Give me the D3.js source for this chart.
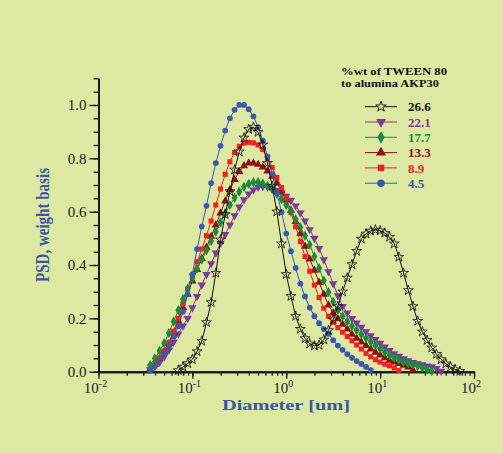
<!DOCTYPE html>
<html>
<head>
<meta charset="utf-8">
<script src="https://cdn.jsdelivr.net/npm/d3@7"></script>
<style>
  html, body { margin: 0; padding: 0; background: #dde8a3; }
  svg { display: block; }
</style>
</head>
<body>
<div id="chart"></div>
<script>
// particle diameters [um], shared by every curve
var diameters = [0.03548, 0.03981, 0.04467, 0.05012, 0.05623, 0.06310, 0.07079, 0.07943, 0.08913, 0.1,
  0.1122, 0.1259, 0.1413, 0.1585, 0.1778, 0.1995, 0.2239, 0.2512, 0.2818, 0.3162,
  0.3548, 0.3981, 0.4467, 0.5012, 0.5623, 0.6310, 0.7079, 0.7943, 0.8913, 1,
  1.122, 1.259, 1.413, 1.585, 1.778, 1.995, 2.239, 2.512, 2.818, 3.162,
  3.548, 3.981, 4.467, 5.012, 5.623, 6.310, 7.079, 7.943, 8.913, 10,
  11.22, 12.59, 14.13, 15.85, 17.78, 19.95, 22.39, 25.12, 28.18, 31.62,
  35.48, 39.81, 44.67, 50.12, 56.23, 63.10, 70.79];

// PSD (weight basis) per %wt of TWEEN 80, null = no point
var psd266 = [null, null, null, null, null, null,
  0.005, 0.018, 0.031, 0.046, 0.076, 0.115, 0.185, 0.26, 0.37, 0.495,
  0.59, 0.676, 0.757, 0.825, 0.877, 0.909, 0.917, 0.898, 0.851, 0.782,
  0.696, 0.6, 0.48, 0.365, 0.283, 0.208, 0.16, 0.125, 0.105, 0.097,
  0.1, 0.12, 0.155, 0.195, 0.245, 0.3, 0.352, 0.402, 0.452, 0.498,
  0.517, 0.528, 0.532, 0.529, 0.52, 0.505, 0.48, 0.43, 0.37, 0.305,
  0.245, 0.19, 0.15, 0.118, 0.09, 0.066, 0.046, 0.03, 0.018, 0.008, 0.002];
var psd221 = [0.008, 0.02, 0.036, 0.056, 0.082, 0.112, 0.142, 0.172, 0.2, 0.24,
  0.282, 0.325, 0.365, 0.405, 0.445, 0.482, 0.515, 0.55, 0.585, 0.618,
  0.645, 0.667, 0.682, 0.692, 0.695, 0.693, 0.688, 0.68, 0.67, 0.658,
  0.643, 0.622, 0.595, 0.565, 0.533, 0.5, 0.462, 0.42, 0.375, 0.33,
  0.285, 0.245, 0.22, 0.2, 0.183, 0.167, 0.15, 0.135, 0.121, 0.107,
  0.093, 0.08, 0.068, 0.058, 0.049, 0.041, 0.035, 0.03, 0.026, 0.022,
  0.019, 0.012, 0.002];
var psd177 = [0.025, 0.05, 0.078, 0.107, 0.145, 0.188, 0.23, 0.272, 0.312, 0.35,
  0.386, 0.42, 0.455, 0.49, 0.525, 0.56, 0.594, 0.625, 0.652, 0.675,
  0.693, 0.704, 0.71, 0.711, 0.706, 0.697, 0.684, 0.667, 0.647, 0.625,
  0.6, 0.572, 0.542, 0.51, 0.476, 0.432, 0.388, 0.342, 0.298, 0.262,
  0.232, 0.208, 0.188, 0.171, 0.155, 0.14, 0.126, 0.112, 0.099, 0.086,
  0.073, 0.062, 0.052, 0.044, 0.037, 0.031, 0.026, 0.021, 0.015, 0.008,
  0.002];
var psd133 = [0.01, 0.027, 0.048, 0.074, 0.105, 0.145, 0.19, 0.24, 0.29, 0.34,
  0.383, 0.425, 0.466, 0.507, 0.55, 0.595, 0.64, 0.682, 0.72, 0.75,
  0.772, 0.782, 0.782, 0.777, 0.767, 0.752, 0.732, 0.707, 0.677, 0.643,
  0.605, 0.563, 0.518, 0.47, 0.422, 0.38, 0.335, 0.29, 0.25, 0.22,
  0.198, 0.178, 0.16, 0.14, 0.125, 0.111, 0.098, 0.085, 0.073, 0.062,
  0.052, 0.043, 0.036, 0.03, 0.024, 0.017, 0.006];
var psd89 = [0.012, 0.03, 0.052, 0.078, 0.11, 0.152, 0.2, 0.255, 0.31, 0.362,
  0.412, 0.46, 0.51, 0.565, 0.625, 0.685, 0.74, 0.787, 0.822, 0.845,
  0.857, 0.86, 0.858, 0.85, 0.833, 0.8, 0.765, 0.728, 0.69, 0.65,
  0.597, 0.543, 0.488, 0.432, 0.377, 0.325, 0.278, 0.238, 0.208, 0.185,
  0.165, 0.148, 0.132, 0.116, 0.1, 0.085, 0.069, 0.056, 0.045, 0.036,
  0.028, 0.022, 0.014, 0.004];
var psd45 = [0.004, 0.02, 0.04, 0.068, 0.095, 0.132, 0.17, 0.225, 0.29, 0.365,
  0.46, 0.544, 0.622, 0.707, 0.782, 0.847, 0.904, 0.95, 0.982, 1.0,
  1.0, 0.984, 0.957, 0.917, 0.866, 0.807, 0.741, 0.671, 0.598, 0.518,
  0.452, 0.389, 0.33, 0.282, 0.24, 0.208, 0.182, 0.16, 0.142, 0.118,
  0.098, 0.082, 0.066, 0.052, 0.04, 0.029, 0.018, 0.006];

var seriesLabels = ['26.6', '22.1', '17.7', '13.3', '8.9', '4.5'];
var xTickPowers = [-2, -1, 0, 1, 2];
var yTickValues = [0, 0.2, 0.4, 0.6, 0.8, 1.0];

var width = 503, height = 453;
var bg = '#dde8a3';
var serif = '"Liberation Serif", "Times New Roman", serif';

var svg = d3.select('#chart').append('svg')
  .attr('width', width)
  .attr('height', height);
svg.append('rect').attr('width', width).attr('height', height).attr('fill', bg);

var x = d3.scaleLog().domain([0.01, 100]).range([98.5, 474]);
var y = d3.scaleLinear().domain([0, 1.1]).range([371.7, 78.3]);

var series = [
  { label: seriesLabels[0], values: psd266, color: '#111111', type: d3.symbolStar, size: 30, lsize: 34, rot: 0, open: true },
  { label: seriesLabels[1], values: psd221, color: '#7b3b98', type: d3.symbolTriangle, size: 30, lsize: 44, rot: 180 },
  { label: seriesLabels[2], values: psd177, color: '#1b8a3c', type: d3.symbolDiamond, size: 30, lsize: 44, rot: 0 },
  { label: seriesLabels[3], values: psd133, color: '#8a1212', type: d3.symbolTriangle, size: 30, lsize: 44, rot: 0 },
  { label: seriesLabels[4], values: psd89, color: '#ee2222', type: d3.symbolSquare, size: 26, lsize: 42, rot: 0 },
  { label: seriesLabels[5], values: psd45, color: '#3c58b0', type: d3.symbolCircle, size: 26, lsize: 44, rot: 0 }
];

// axes
var xMinor = svg.append('g').attr('transform', 'translate(0,' + y(0) + ')')
  .call(d3.axisBottom(x).tickValues(x.ticks()).tickSize(4).tickSizeOuter(0).tickFormat(''));
var xMajor = svg.append('g').attr('transform', 'translate(0,' + y(0) + ')')
  .call(d3.axisBottom(x).tickValues(xTickPowers.map(function (p) { return Math.pow(10, p); }))
    .tickSize(7).tickSizeOuter(0).tickFormat(''));
var yMinor = svg.append('g').attr('transform', 'translate(' + x(0.01) + ',0)')
  .call(d3.axisLeft(y).tickValues(y.ticks(22)).tickSize(5).tickSizeOuter(0).tickFormat(''));
var yMajor = svg.append('g').attr('transform', 'translate(' + x(0.01) + ',0)')
  .call(d3.axisLeft(y).tickValues(yTickValues).tickSize(9).tickSizeOuter(0).tickPadding(3)
    .tickFormat(d3.format('.1f')));

[xMinor, xMajor, yMinor, yMajor].forEach(function (a) {
  a.select('.domain').attr('stroke', '#1a1a1a').attr('stroke-width', 2);
  a.selectAll('.tick line').attr('stroke', '#1a1a1a').attr('stroke-width', 1.3);
});
yMajor.selectAll('.tick text')
  .attr('font-family', serif).attr('font-size', 15).attr('fill', '#222');

// x tick labels 10^n
xTickPowers.forEach(function (p) {
  var t = svg.append('text')
    .attr('x', x(Math.pow(10, p)) - 3)
    .attr('y', 393)
    .attr('text-anchor', 'middle')
    .attr('font-family', serif).attr('font-size', 15).attr('fill', '#222');
  t.append('tspan').text('10');
  t.append('tspan').attr('dy', -6).attr('font-size', 10).text(String(p));
});

// axis titles
svg.append('text')
  .attr('x', 286).attr('y', 410)
  .attr('text-anchor', 'middle')
  .attr('font-family', serif).attr('font-size', 14).attr('font-weight', 'bold')
  .attr('fill', '#3d55a8')
  .attr('textLength', 128).attr('lengthAdjust', 'spacingAndGlyphs')
  .text('Diameter [um]');
svg.append('text')
  .attr('transform', 'translate(49,225) rotate(-90)')
  .attr('text-anchor', 'middle')
  .attr('font-family', serif).attr('font-size', 18).attr('font-weight', 'bold')
  .attr('fill', '#3d55a8')
  .attr('textLength', 114).attr('lengthAdjust', 'spacingAndGlyphs')
  .text('PSD, weight basis');

// curves
var plot = svg.append('g');
var drawOrder = [1, 3, 4, 2, 5, 0];
var line = d3.line()
  .x(function (p) { return x(p.d); })
  .y(function (p) { return y(p.v); });

drawOrder.forEach(function (k) {
  var s = series[k];
  var pts = diameters.map(function (d, i) { return { d: d, v: s.values[i] }; })
    .filter(function (p) { return p.v != null; });
  plot.append('path').datum(pts)
    .attr('d', line)
    .attr('fill', 'none')
    .attr('stroke', s.color)
    .attr('stroke-width', 1);
  plot.append('g').selectAll('path').data(pts).enter().append('path')
    .attr('transform', function (p) {
      return 'translate(' + x(p.d) + ',' + y(p.v) + ') rotate(' + s.rot + ')';
    })
    .attr('d', d3.symbol().type(s.type).size(s.size))
    .attr('fill', s.open ? 'none' : s.color)
    .attr('stroke', s.open ? s.color : 'none')
    .attr('stroke-width', 0.8);
});

// legend
var legend = svg.append('g');
legend.append('text')
  .attr('x', 341).attr('y', 74.5)
  .attr('font-family', serif).attr('font-size', 11).attr('font-weight', 'bold').attr('fill', '#111')
  .attr('textLength', 106).attr('lengthAdjust', 'spacingAndGlyphs')
  .text('%wt of TWEEN 80');
legend.append('text')
  .attr('x', 341).attr('y', 87)
  .attr('font-family', serif).attr('font-size', 11).attr('font-weight', 'bold').attr('fill', '#111')
  .attr('textLength', 98).attr('lengthAdjust', 'spacingAndGlyphs')
  .text('to alumina AKP30');

series.forEach(function (s, i) {
  var ly = 106.7 + i * 15.3;
  legend.append('line')
    .attr('x1', 365).attr('x2', 397).attr('y1', ly).attr('y2', ly)
    .attr('stroke', s.color).attr('stroke-width', 1);
  legend.append('path')
    .attr('transform', 'translate(381,' + ly + ') rotate(' + s.rot + ')')
    .attr('d', d3.symbol().type(s.type).size(s.lsize))
    .attr('fill', s.open ? bg : s.color)
    .attr('stroke', s.open ? s.color : 'none')
    .attr('stroke-width', 0.9);
  legend.append('text')
    .attr('x', 408).attr('y', ly + 4.6)
    .attr('font-family', serif).attr('font-size', 13).attr('font-weight', 'bold')
    .attr('fill', s.color)
    .text(s.label);
});
</script>
</body>
</html>
